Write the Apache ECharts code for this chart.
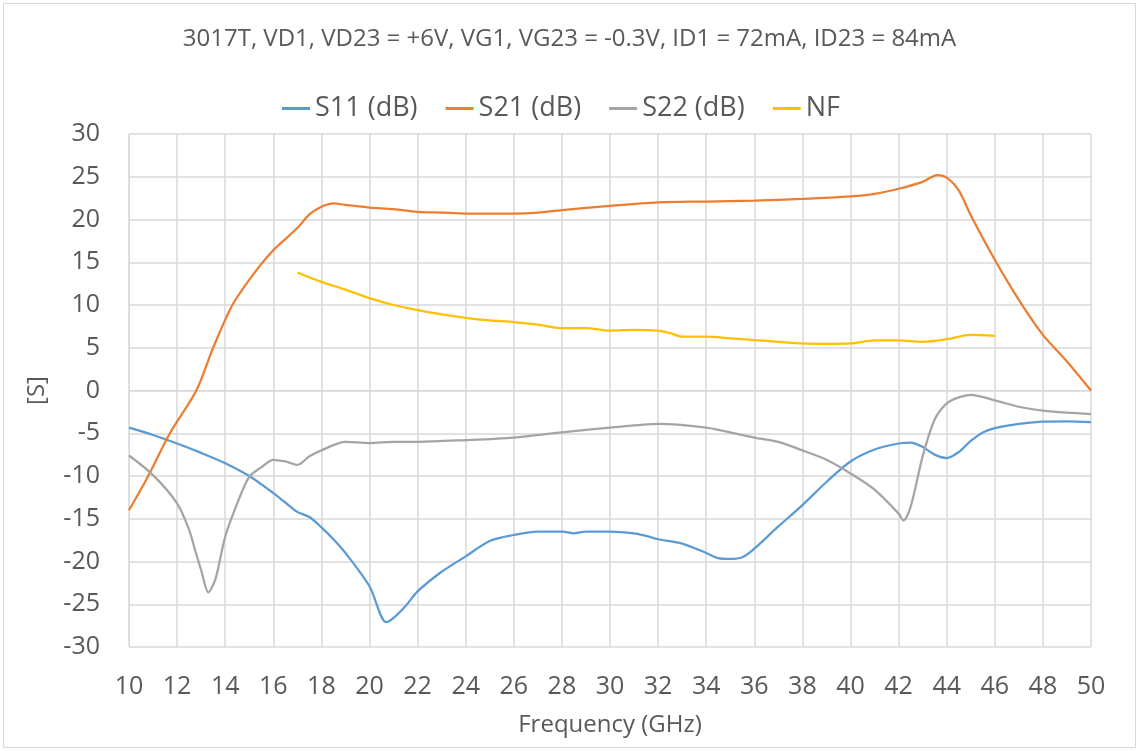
<!DOCTYPE html>
<html>
<head>
    <meta charset="UTF-8">
    <title>3017T S-parameters</title>
    <script src="https://cdn.jsdelivr.net/npm/echarts@6/dist/echarts.min.js"></script>
    <style>
        body {
            margin: 0;
            background-color: #fff;
        }
        #frame {
            position: absolute;
            left: 3px;
            top: 3px;
            width: 1131px;
            height: 743px;
            border: 1px solid #d9d9d9;
        }
        #chart {
            width: 1139px;
            height: 751px;
        }
    </style>
</head>
<body>
    <div id="frame"></div>
    <div id="chart"></div>

    <script>
        // 数据
        var s11Freq = [10, 11, 12, 13, 14, 15, 16, 16.5, 17, 17.5, 18, 18.5, 19, 20, 20.7, 21, 21.5, 22, 23, 24, 25, 26, 27, 28, 28.5, 29, 30, 31, 31.5, 32, 33, 34, 34.5, 35, 35.5, 36, 36.5, 37, 38, 39, 40, 41, 42, 42.5, 43, 43.5, 44, 44.5, 45, 45.5, 46, 47, 48, 49, 50];
        var s11 = [-4.35, -5.2, -6.2, -7.3, -8.5, -10.0, -12.0, -13.1, -14.2, -14.8, -16.0, -17.4, -19.0, -22.9, -27.1, -26.6, -25.2, -23.5, -21.2, -19.4, -17.6, -16.9, -16.5, -16.5, -16.7, -16.5, -16.5, -16.7, -17.0, -17.4, -17.9, -19.0, -19.6, -19.7, -19.5, -18.5, -17.2, -15.9, -13.4, -10.7, -8.3, -6.9, -6.2, -6.1, -6.6, -7.5, -7.9, -7.2, -5.9, -4.9, -4.4, -3.9, -3.65, -3.6, -3.7];

        var s21Freq = [10, 10.8, 11.7, 12.8, 13.5, 14.3, 15.2, 16, 17, 17.5, 18, 18.5, 19, 20, 21, 22, 23, 24, 26, 27, 28, 30, 32, 34, 36, 38, 40, 41, 42, 43, 43.6, 44, 44.5, 45, 46, 47, 48, 49, 50];
        var s21 = [-14, -10, -5, 0, 5, 10, 13.7, 16.4, 19.0, 20.6, 21.5, 21.9, 21.7, 21.4, 21.2, 20.9, 20.8, 20.7, 20.7, 20.8, 21.1, 21.6, 22.0, 22.1, 22.2, 22.4, 22.7, 23.0, 23.6, 24.4, 25.2, 24.9, 23.4, 20.5, 15.3, 10.6, 6.5, 3.4, 0];

        var s22Freq = [10, 11, 12, 12.5, 12.75, 13, 13.3, 13.6, 14, 14.5, 15, 15.5, 16, 16.5, 17, 17.5, 18, 19, 20, 21, 22, 24, 26, 28, 30, 32, 34, 36, 37, 38, 39, 40, 41, 42, 42.2, 42.5, 43, 43.5, 44, 44.5, 45, 46, 47, 48, 49, 50];
        var s22 = [-7.6, -9.9, -13.2, -16.3, -18.7, -21, -23.6, -22.0, -17.1, -13.2, -10.1, -9.0, -8.1, -8.3, -8.7, -7.7, -7.0, -6.0, -6.15, -6.0, -6.0, -5.8, -5.5, -4.9, -4.35, -3.9, -4.35, -5.5, -6.0, -7.0, -8.1, -9.7, -11.6, -14.4, -15.2, -13.6, -7.7, -3.4, -1.5, -0.8, -0.5, -1.15, -1.9, -2.35, -2.6, -2.75];

        var nfFreq = [17, 18, 19, 20, 21, 22, 23, 24, 25, 26, 27, 28, 29, 30, 31, 32, 32.5, 33, 34, 35, 36, 37, 38, 39, 40, 41, 42, 43, 44, 45, 46];
        var nf = [13.8, 12.7, 11.8, 10.8, 10.0, 9.4, 8.9, 8.5, 8.2, 8.0, 7.7, 7.3, 7.3, 7.0, 7.1, 7.0, 6.7, 6.3, 6.3, 6.1, 5.9, 5.7, 5.5, 5.45, 5.5, 5.85, 5.85, 5.7, 6.0, 6.5, 6.4];

        function pairs(xs, ys) {
            return xs.map(function (x, i) { return [x, ys[i]]; });
        }

        var font = 'Open Sans';
        var textColor = '#595959';
        var gridColor = '#d9d9d9';

        function lineSeries(name, xs, ys, color) {
            return {
                name: name,
                type: 'line',
                data: pairs(xs, ys),
                smooth: 0.3,
                symbol: 'none',
                lineStyle: { color: color, width: 2.25 },
                itemStyle: { color: color }
            };
        }

        var myChart = echarts.init(document.getElementById('chart'));

        var option = {
            animation: false,
            title: {
                text: '3017T, VD1, VD23 = +6V, VG1, VG23 = -0.3V, ID1 = 72mA, ID23 = 84mA',
                left: 'center',
                top: 22,
                textStyle: {
                    fontFamily: font,
                    fontSize: 24,
                    fontWeight: 'normal',
                    color: textColor
                }
            },
            legend: {
                top: 90,
                left: 277,
                icon: 'rect',
                itemWidth: 28,
                itemHeight: 3,
                itemGap: 28,
                textStyle: {
                    fontFamily: font,
                    fontSize: 27,
                    color: textColor
                },
                data: ['S11 (dB)', 'S21 (dB)', 'S22 (dB)', 'NF']
            },
            grid: {
                left: 129,
                right: 48,
                top: 134,
                bottom: 104
            },
            xAxis: {
                type: 'value',
                min: 10,
                max: 50,
                interval: 2,
                name: 'Frequency (GHz)',
                nameLocation: 'middle',
                nameGap: 66,
                nameTextStyle: { fontFamily: font, fontSize: 24, color: textColor },
                axisLine: { lineStyle: { color: gridColor } },
                axisTick: { show: false },
                axisLabel: { fontFamily: font, fontSize: 25, color: textColor, margin: 27 },
                splitLine: { show: true, lineStyle: { color: gridColor, width: 1.5 } }
            },
            yAxis: {
                type: 'value',
                min: -30,
                max: 30,
                interval: 5,
                name: '[S]',
                nameLocation: 'middle',
                nameGap: 80,
                nameTextStyle: { fontFamily: font, fontSize: 24, color: textColor },
                axisLine: { show: true, lineStyle: { color: gridColor } },
                axisTick: { show: false },
                axisLabel: { fontFamily: font, fontSize: 25, color: textColor, margin: 29 },
                splitLine: { show: true, lineStyle: { color: gridColor, width: 1.5 } }
            },
            series: [
                lineSeries('S11 (dB)', s11Freq, s11, '#5B9BD5'),
                lineSeries('S21 (dB)', s21Freq, s21, '#ED7D31'),
                lineSeries('S22 (dB)', s22Freq, s22, '#A5A5A5'),
                lineSeries('NF', nfFreq, nf, '#FFC000')
            ]
        };

        myChart.setOption(option);
    </script>
</body>
</html>
